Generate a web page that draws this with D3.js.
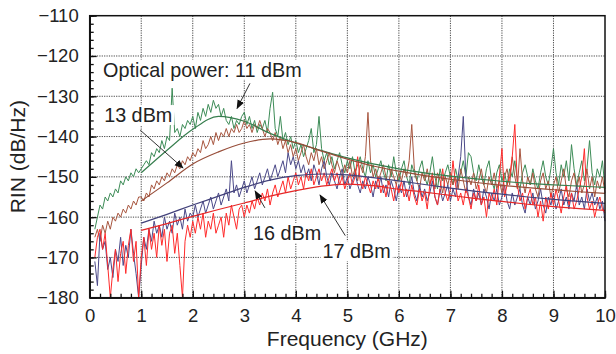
<!DOCTYPE html>
<html lang="en">
<head>
<meta charset="utf-8">
<style>
  body { margin: 0; background: #fff; }
  svg text { font-family: "Liberation Sans", Arial, sans-serif; fill: #222; }
  .axis path, .axis line { fill: none; stroke: #111; stroke-width: 1.3; }
  .axis text { font-size: 18.5px; }
  .grid line { stroke: #444; stroke-width: 1; stroke-dasharray: 1.2,1.2; }
</style>
<script src="https://d3js.org/d3.v7.min.js" charset="utf-8"></script>
</head>
<body>
<script>
  // spectrum analyser samples: 0.10 GHz .. 10.00 GHz, every 0.05 GHz
  let fStart = 0.1;
  let fStep = 0.05;

  let rin11 = [
    -163,-160,-157,-158,-155,-156,-154,-155,-153,-154,-151,-152,-150,-151,-149,-150,-148,-149,
    -148,-147,-146,-147,-144,-145,-143,-144,-141,-143,-140,-141,-128,-139,-138,-140,-137,-138,-136,-137,
    -135,-138,-134,-136,-133,-135,-132,-134,-131,-133,-132,-135,-133,-136,-137,-135,-138,-136,-137,-135,
    -134,-137,-135,-138,-136,-139,-137,-138,-136,-139,-133,-129,-138,-140,-135,-141,-139,-142,-140,-143,
    -141,-144,-142,-145,-143,-141,-138,-144,-142,-135,-143,-146,-144,-147,-145,-148,-146,-144,-147,-149,
    -146,-148,-145,-149,-147,-145,-148,-150,-146,-149,-147,-150,-148,-146,-149,-151,-147,-150,-145,-149,
    -151,-148,-146,-150,-152,-147,-149,-151,-148,-146,-150,-152,-149,-145,-150,-153,-148,-151,-149,-147,
    -150,-152,-148,-151,-149,-146,-150,-144,-145,-149,-151,-147,-150,-152,-148,-146,-151,-153,-149,-147,
    -151,-149,-152,-148,-150,-146,-151,-153,-149,-147,-150,-152,-148,-151,-153,-149,-146,-150,-152,-148,
    -143,-149,-152,-147,-150,-146,-151,-142,-148,-152,-149,-146,-151,-148,-141,-149,-152,-148,-150,-146,-153
  ];
  let rin13 = [
    -165,-163,-166,-162,-164,-161,-163,-160,-161,-159,-160,-158,-159,-157,-158,-156,-157,-155,
    -155,-156,-154,-155,-152,-153,-151,-152,-150,-151,-149,-150,-148,-149,-147,-148,-146,-147,-145,-146,
    -144,-145,-143,-144,-141,-143,-142,-140,-142,-139,-141,-139,-140,-138,-140,-138,-139,-137,-139,-138,
    -136,-138,-137,-139,-137,-138,-136,-138,-140,-138,-139,-141,-139,-142,-140,-143,-141,-144,-142,-145,
    -143,-146,-144,-142,-145,-147,-144,-146,-143,-147,-145,-148,-146,-144,-147,-149,-146,-148,-150,-147,
    -149,-146,-150,-148,-151,-147,-149,-145,-134,-146,-150,-148,-151,-149,-147,-150,-152,-148,-150,-152,
    -149,-151,-148,-150,-146,-137,-148,-151,-153,-149,-151,-148,-152,-150,-153,-149,-151,-154,-150,-152,
    -149,-152,-150,-153,-148,-151,-154,-150,-152,-149,-153,-151,-148,-152,-154,-150,-152,-149,-153,-151,
    -154,-150,-148,-152,-145,-150,-153,-143,-151,-154,-150,-152,-149,-153,-155,-151,-149,-153,-151,-155,
    -152,-150,-154,-151,-148,-153,-155,-151,-149,-153,-150,-154,-152,-148,-153,-150,-155,-151,-153,-150,-154
  ];
  let rin16 = [
    -171,-177,-164,-168,-166,-173,-170,-175,-168,-171,-165,-172,-167,-170,-163,-169,-174,-180,
    -172,-165,-168,-163,-166,-161,-164,-162,-165,-160,-163,-161,-164,-159,-162,-160,-163,-158,-161,-159,
    -160,-157,-160,-158,-156,-159,-157,-155,-158,-156,-154,-157,-155,-153,-156,-146,-154,-152,-155,-153,
    -151,-154,-152,-150,-153,-151,-149,-152,-150,-148,-151,-149,-147,-150,-148,-146,-149,-144,-147,-145,
    -148,-146,-149,-147,-150,-148,-151,-147,-149,-152,-148,-146,-150,-152,-149,-151,-153,-150,-148,-152,
    -150,-153,-151,-149,-152,-154,-151,-153,-150,-152,-155,-151,-153,-150,-154,-152,-155,-151,-153,-156,
    -152,-154,-151,-155,-153,-150,-154,-156,-152,-155,-153,-156,-154,-151,-155,-157,-153,-156,-154,-152,
    -156,-153,-155,-150,-145,-135,-150,-155,-157,-153,-156,-154,-157,-153,-155,-158,-154,-156,-153,-157,
    -155,-152,-156,-158,-154,-157,-155,-153,-157,-159,-155,-157,-154,-158,-156,-153,-157,-159,-155,-157,
    -154,-158,-156,-153,-157,-155,-158,-154,-156,-152,-157,-155,-158,-153,-156,-154,-157,-155,-158,-156,-161
  ];
  let rin17 = [
    -170,-165,-163,-168,-164,-172,-180,-173,-168,-176,-169,-166,-174,-167,-163,-171,-166,-180,
    -170,-165,-172,-163,-168,-164,-170,-162,-167,-163,-171,-164,-162,-169,-164,-172,-180,-166,-162,-165,
    -161,-164,-160,-163,-159,-165,-161,-163,-159,-164,-162,-160,-165,-159,-162,-157,-160,-163,-158,-157,
    -160,-157,-159,-156,-158,-155,-157,-154,-156,-153,-157,-154,-152,-155,-153,-151,-154,-150,-153,-151,
    -149,-152,-150,-153,-149,-151,-148,-152,-150,-148,-151,-149,-152,-150,-148,-151,-149,-152,-150,-153,
    -151,-149,-152,-150,-145,-151,-153,-150,-152,-154,-151,-153,-150,-154,-152,-155,-151,-153,-156,-152,
    -154,-151,-155,-153,-156,-152,-155,-157,-153,-156,-154,-158,-152,-149,-155,-157,-153,-148,-154,-156,
    -153,-146,-152,-156,-154,-157,-153,-155,-158,-154,-156,-152,-157,-155,-160,-154,-156,-153,-157,-150,
    -143,-155,-152,-150,-145,-137,-152,-156,-154,-158,-155,-153,-157,-155,-160,-156,-161,-155,-158,-154,
    -157,-153,-156,-159,-155,-152,-157,-154,-158,-156,-153,-150,-143,-155,-158,-156,-160,-157,-155,-158,-159
  ];

  // fitted curves
  let fitFreq = [1, 1.5, 2, 2.5, 3, 3.5, 4, 4.5, 5, 5.5, 6, 6.5, 7, 7.5, 8, 8.5, 9, 9.5, 10];
  let fit11 = [-149, -143.4, -138.2, -135, -136.2, -139.2, -141.6, -143.5, -145.3, -146.8, -148, -149, -149.8, -150.5, -151.1, -151.6, -152, -152.3, -152.6];
  let fit13 = [-156, -151.5, -146.8, -143.8, -141.6, -140.6, -141.5, -143.6, -145.6, -147.3, -148.6, -149.7, -150.6, -151.4, -152.1, -152.7, -153.2, -153.7, -154.1];
  let fit16 = [-161.5, -159.3, -157, -154.8, -152.6, -150.8, -149.7, -149.3, -149.5, -150.2, -151, -151.9, -152.8, -153.6, -154.3, -155, -155.6, -156.1, -156.6];
  let fit17 = [-163.3, -161.6, -159.8, -158.1, -156.5, -154.8, -153.4, -152.3, -151.8, -152.2, -153.1, -153.8, -154.6, -155.4, -156.1, -156.8, -157.4, -157.9, -158.3];

  let xTicks = [0, 1, 2, 3, 4, 5, 6, 7, 8, 9, 10];
  let yTicks = [-180, -170, -160, -150, -140, -130, -120, -110];

  let series = [
    {name: "11 dBm", raw: rin11, fit: fit11, color: "#3d8c57"},
    {name: "13 dBm", raw: rin13, fit: fit13, color: "#a8563f"},
    {name: "16 dBm", raw: rin16, fit: fit16, color: "#4a4888"},
    {name: "17 dBm", raw: rin17, fit: fit17, color: "#ff2b2b"}
  ];

  // label text, text anchor (GHz, dB/Hz), arrow tail and head (GHz, dB/Hz)
  let notes = [
    {text: "Optical power: 11 dBm", f: 0.26, v: -125.1, from: [3.11, -126.8], to: [2.86, -133.0]},
    {text: "13 dBm", f: 0.28, v: -136.4, from: [0.98, -138.4], to: [1.81, -147.8]},
    {text: "16 dBm", f: 3.17, v: -165.7, from: [3.40, -157.7], to: [3.21, -153.5]},
    {text: "17 dBm", f: 4.52, v: -170.2, from: [4.96, -164.6], to: [4.47, -154.5]}
  ];

  let svgWidth = 616;
  let svgHeight = 354;
  let plotLeft = 89.7, plotRight = 605, plotTop = 15.7, plotBottom = 297.7;

  let svg = d3.select("body").append("svg")
    .attr("width", svgWidth)
    .attr("height", svgHeight);

  let x = d3.scaleLinear().domain([0, 10]).range([plotLeft, plotRight]);
  let y = d3.scaleLinear().domain([-180, -110]).range([plotBottom, plotTop]);

  // dotted grid
  svg.append("g").attr("class", "grid")
    .selectAll("line").data(xTicks.slice(1, -1)).join("line")
    .attr("x1", d => x(d)).attr("x2", d => x(d))
    .attr("y1", plotTop).attr("y2", plotBottom);
  svg.append("g").attr("class", "grid")
    .selectAll("line").data(yTicks.slice(1, -1)).join("line")
    .attr("x1", plotLeft).attr("x2", plotRight)
    .attr("y1", d => y(d)).attr("y2", d => y(d));

  let rawLine = d3.line()
    .x((d, i) => x(fStart + i * fStep))
    .y(d => y(d));
  let fitLine = d3.line()
    .x((d, i) => x(fitFreq[i]))
    .y(d => y(d))
    .curve(d3.curveMonotoneX);

  series.forEach(function(s) {
    svg.append("path")
      .attr("d", rawLine(s.raw))
      .style("fill", "none")
      .style("stroke", s.color)
      .style("stroke-width", 1)
      .style("stroke-linejoin", "round");
  });
  series.forEach(function(s) {
    svg.append("path")
      .attr("d", fitLine(s.fit))
      .style("fill", "none")
      .style("stroke", d3.color(s.color).darker(0.3))
      .style("stroke-width", 1.2);
  });

  // axes, ticks pointing inwards
  svg.append("g").attr("class", "x axis")
    .attr("transform", "translate(0," + plotBottom + ")")
    .call(d3.axisBottom(x).tickValues(xTicks).tickFormat(d3.format("d"))
      .tickSizeInner(-7).tickSizeOuter(0).tickPadding(11));
  svg.append("g").attr("class", "x axis minor")
    .attr("transform", "translate(0," + plotBottom + ")")
    .call(d3.axisBottom(x).tickValues(d3.range(0, 10.01, 0.2)).tickFormat("")
      .tickSizeInner(-4).tickSizeOuter(0));

  svg.append("g").attr("class", "y axis")
    .attr("transform", "translate(" + plotLeft + ",0)")
    .call(d3.axisLeft(y).tickValues(yTicks)
      .tickSizeInner(-7).tickSizeOuter(0).tickPadding(11));
  svg.append("g").attr("class", "y axis minor")
    .attr("transform", "translate(" + plotLeft + ",0)")
    .call(d3.axisLeft(y).tickValues(d3.range(-180, -109, 2)).tickFormat("")
      .tickSizeInner(-4).tickSizeOuter(0));

  svg.append("rect")
    .attr("x", plotLeft).attr("y", plotTop)
    .attr("width", plotRight - plotLeft).attr("height", plotBottom - plotTop)
    .style("fill", "none").style("stroke", "#111").style("stroke-width", 1.5);

  svg.append("text")
    .attr("x", x(5)).attr("y", 346)
    .attr("text-anchor", "middle")
    .style("font-size", "21px")
    .text("Frequency (GHz)");
  svg.append("text")
    .attr("transform", "translate(25," + (plotTop + plotBottom) / 2 + ") rotate(-90)")
    .attr("text-anchor", "middle")
    .style("font-size", "21px")
    .text("RIN (dB/Hz)");

  // annotations
  svg.append("defs").append("marker")
    .attr("id", "head")
    .attr("viewBox", "0 0 10 10")
    .attr("refX", 9).attr("refY", 5)
    .attr("markerWidth", 9).attr("markerHeight", 9)
    .attr("markerUnits", "userSpaceOnUse")
    .attr("orient", "auto")
    .append("path").attr("d", "M0,1L10,5L0,9Z").style("fill", "#111");

  notes.forEach(function(n) {
    let g = svg.append("g");
    let t = g.append("text")
      .attr("x", x(n.f)).attr("y", y(n.v))
      .style("font-size", "19.8px")
      .text(n.text);
    let b = t.node().getBBox();
    g.insert("rect", "text")
      .attr("x", b.x - 2).attr("y", b.y + 1)
      .attr("width", b.width + 4).attr("height", b.height - 2)
      .style("fill", "#fff");
    svg.append("line")
      .attr("x1", x(n.from[0])).attr("y1", y(n.from[1]))
      .attr("x2", x(n.to[0])).attr("y2", y(n.to[1]))
      .style("stroke", "#333").style("stroke-width", 1)
      .attr("marker-end", "url(#head)");
  });
</script>
</body>
</html>
